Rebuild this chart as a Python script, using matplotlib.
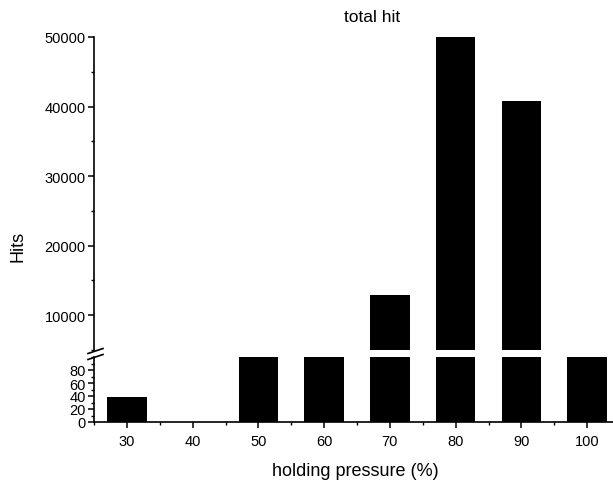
import matplotlib
matplotlib.use('Agg')
import matplotlib.pyplot as plt
from matplotlib.lines import Line2D
from matplotlib.ticker import MultipleLocator

plt.rcParams['font.family'] = ['Liberation Sans', 'DejaVu Sans']

# holding pressure (%) and total hits
pressure = [30, 40, 50, 60, 70, 80, 90, 100]
hits = [38, 0, 2000, 2000, 12900, 50000, 40800, 2000]

W, H = 613, 485
fig = plt.figure(figsize=(W / 100, H / 100), dpi=100)


def fbox(x0, y0, x1, y1):
    # pixel box (top-left origin) -> figure fraction
    return [x0 / W, 1 - y1 / H, (x1 - x0) / W, (y1 - y0) / H]


ax_top = fig.add_axes(fbox(94, 38, 620, 351))
ax_bot = fig.add_axes(fbox(94, 358, 620, 423))

for ax in (ax_top, ax_bot):
    ax.bar(pressure, hits, width=6, color='black')
    ax.set_xlim(25, 105)
    for s in ('top', 'right'):
        ax.spines[s].set_visible(False)
    ax.spines['left'].set_linewidth(1.2)
    ax.spines['bottom'].set_linewidth(1.2)
    ax.tick_params(which='major', length=4, width=1.1, labelsize=10.5, pad=2)
    ax.tick_params(which='minor', length=2.5, width=1.0)

ax_top.set_ylim(5000, 50000)
ax_top.yaxis.set_major_locator(MultipleLocator(10000))
ax_top.yaxis.set_minor_locator(MultipleLocator(5000))
ax_top.spines['bottom'].set_visible(False)
ax_top.tick_params(axis='x', which='both', bottom=False, labelbottom=False)

ax_bot.set_ylim(0, 100)
ax_bot.yaxis.set_minor_locator(MultipleLocator(10))
ax_bot.set_yticks([0, 20, 40, 60, 80])
ax_bot.xaxis.set_major_locator(MultipleLocator(10))
ax_bot.xaxis.set_minor_locator(MultipleLocator(5))
ax_bot.tick_params(axis='x', which='major', pad=5)

# break marks on the y axis
for yb in (352, 358):
    fig.add_artist(Line2D([88 / W, 103 / W], [1 - (yb + 2.5) / H, 1 - (yb - 2.5) / H],
                          transform=fig.transFigure, color='black', lw=1.2))

fig.text(372 / W, 1 - 18 / H, 'total hit', ha='center', va='center', fontsize=12.5)
fig.text(18 / W, 1 - 246 / H, 'Hits', ha='center', va='center', rotation=90, fontsize=13)
fig.text(355 / W, 1 - 472 / H, 'holding pressure (%)', ha='center', va='center', fontsize=13)

fig.savefig('out.png', dpi=100)
